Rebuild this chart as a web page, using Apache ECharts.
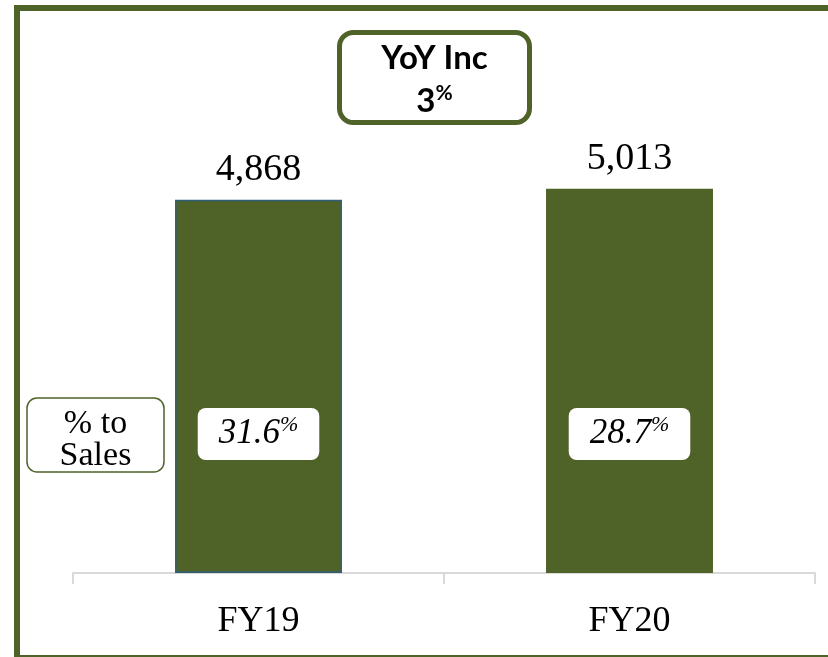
<!DOCTYPE html>
<html>
<head>
	<meta charset="utf-8">
	<title>FY19 vs FY20</title>
	<script src="https://cdn.jsdelivr.net/npm/echarts@6/dist/echarts.min.js"></script>
	<style>
		html, body { margin: 0; padding: 0; background: #fff; }
		#main { width: 828px; height: 657px; }
	</style>
</head>
<body>
	<div id="main"></div>
	<script type="text/javascript">
		// categories and values
		var categories = ['FY19', 'FY20'];
		var values = [4868, 5013];
		// % to sales, shown inside the bars
		var pctToSales = [31.6, 28.7];
		// year over year increase
		var yoyInc = 3;

		var green = '#4F6228';
		var serif = '"Liberation Serif", "DejaVu Serif", serif';
		var sans = 'Lato, "Open Sans", sans-serif';

		var myChart = echarts.init(document.getElementById('main'));

		var option = {
			animation: false,
			grid: { left: 73, right: 13, top: 113, bottom: 84 },
			xAxis: {
				type: 'category',
				data: categories,
				axisLine: { lineStyle: { color: '#D9D9D9', width: 2 } },
				axisTick: { show: true, length: 11, lineStyle: { color: '#D9D9D9', width: 2 } },
				axisLabel: { color: '#000', fontFamily: serif, fontSize: 36, margin: 31 }
			},
			yAxis: {
				type: 'value',
				min: 0,
				max: 6000,
				show: false,
				splitLine: { show: false }
			},
			series: [
				{
					// bars with the % to sales boxes
					type: 'bar',
					barWidth: '45%',
					data: values.map(function (v, i) {
						return {
							value: v,
							itemStyle: i === 0 ? { borderColor: '#2E5F7A', borderWidth: 1.5 } : {}
						};
					}),
					itemStyle: { color: green },
					label: {
						show: true,
						position: 'insideBottom',
						distance: 113,
						backgroundColor: '#fff',
						borderRadius: 8,
						padding: [6, 21, 6, 21],
						formatter: function (p) {
							return '{n|' + pctToSales[p.dataIndex].toFixed(1) + '}{s|%}';
						},
						rich: {
							n: { fontFamily: serif, fontStyle: 'italic', fontSize: 35, color: '#000', lineHeight: 40 },
							s: { fontFamily: serif, fontStyle: 'italic', fontSize: 22, color: '#000', verticalAlign: 'top', lineHeight: 40, padding: [0, 0, 14, 0] }
						}
					}
				},
				{
					// transparent copy to carry the value labels on top
					type: 'bar',
					barWidth: '45%',
					barGap: '-100%',
					data: values,
					itemStyle: { color: 'rgba(0,0,0,0)' },
					silent: true,
					label: {
						show: true,
						position: 'top',
						distance: 11,
						color: '#000',
						fontFamily: serif,
						fontSize: 38,
						formatter: function (p) {
							return p.value.toLocaleString('en-US');
						}
					}
				}
			],
			graphic: [
				// outer frame
				{
					type: 'rect',
					shape: { x: 17, y: 8, width: 850, height: 650 },
					style: { fill: null, stroke: green, lineWidth: 6 },
					silent: true
				},
				// YoY box
				{
					type: 'rect',
					shape: { x: 339.5, y: 32.5, width: 190, height: 90, r: 14 },
					style: { fill: '#fff', stroke: green, lineWidth: 5 }
				},
				{
					type: 'text',
					x: 434.5,
					y: 58,
					style: {
						text: 'YoY Inc',
						font: 'bold 33px ' + sans,
						fill: '#000',
						align: 'center',
						verticalAlign: 'middle'
					}
				},
				{
					type: 'text',
					x: 434.5,
					y: 101,
					style: {
						text: '{n|' + yoyInc + '}{s|%}',
						align: 'center',
						verticalAlign: 'middle',
						rich: {
							n: { font: 'bold 33px ' + sans, fill: '#000', lineHeight: 36 },
							s: { font: 'bold 21px ' + sans, fill: '#000', verticalAlign: 'top', lineHeight: 36, padding: [0, 0, 12, 0] }
						}
					}
				},
				// % to Sales box
				{
					type: 'rect',
					shape: { x: 27, y: 398, width: 137, height: 74, r: 10 },
					style: { fill: '#fff', stroke: green, lineWidth: 1.5 }
				},
				{
					type: 'text',
					x: 95.5,
					y: 440,
					style: {
						text: '% to\nSales',
						font: '34px ' + serif,
						lineHeight: 32,
						fill: '#000',
						align: 'center',
						verticalAlign: 'middle'
					}
				}
			]
		};

		myChart.setOption(option);
	</script>
</body>
</html>
